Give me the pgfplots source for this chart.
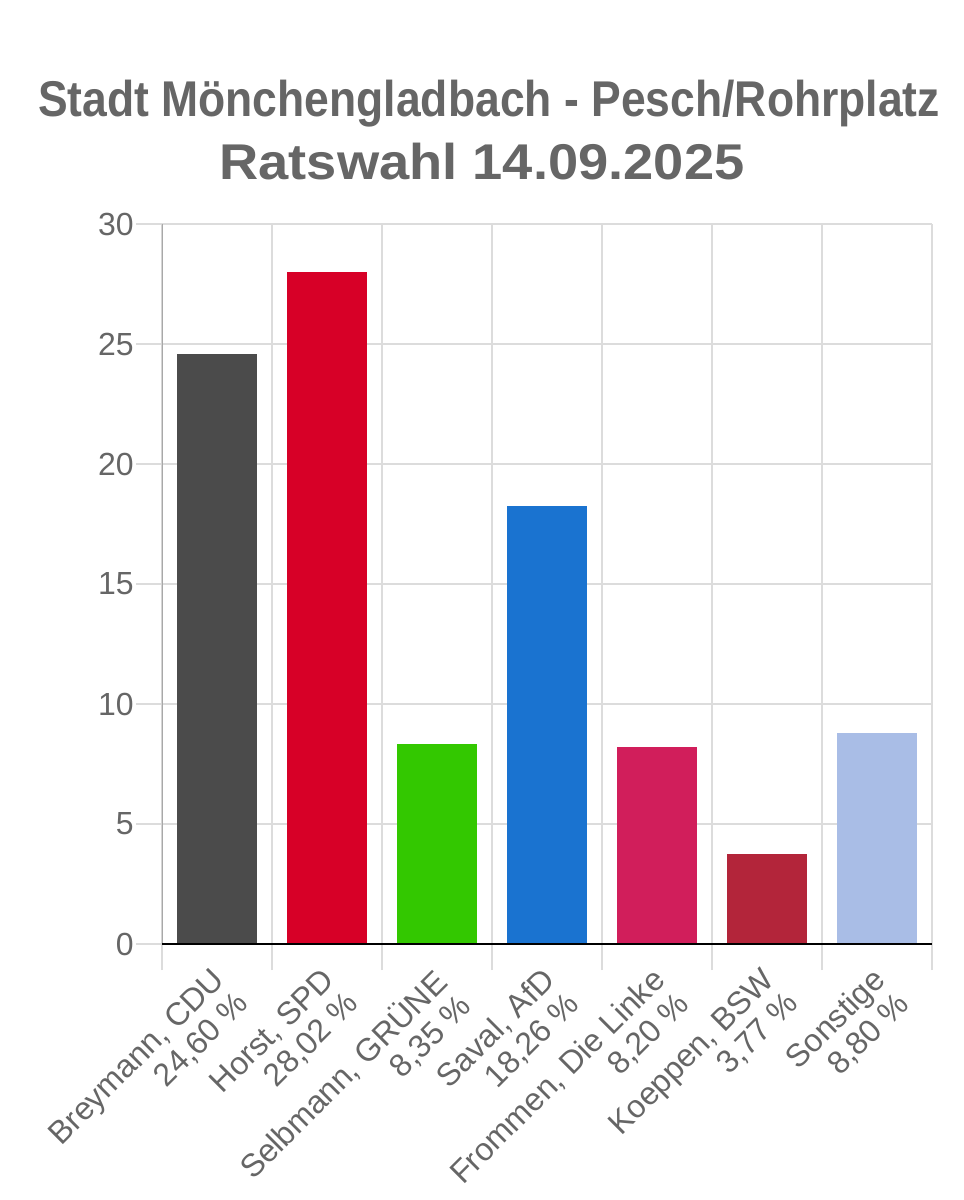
\documentclass[border=0pt]{standalone}
\usepackage{pgfplots}
\pgfplotsset{compat=1.18}
\usepackage{fontspec}
\setmainfont{Liberation Sans}
\usepackage{graphicx}

\definecolor{txt}{HTML}{666666}
\definecolor{gridgray}{HTML}{DCDCDC}
\definecolor{axisgray}{HTML}{A8A8A8}
\definecolor{cdu}{HTML}{4B4B4B}
\definecolor{spd}{HTML}{D70027}
\definecolor{gruene}{HTML}{33C800}
\definecolor{afd}{HTML}{1A73D0}
\definecolor{linke}{HTML}{D11E5B}
\definecolor{bsw}{HTML}{B3253A}
\definecolor{sonst}{HTML}{A9BDE6}

\begin{document}
\begin{tikzpicture}
\path[use as bounding box] (0,0) rectangle (96.4mm,120mm);

% title, two lines
\node[anchor=base, text=txt, inner sep=0pt] at (48.9mm,108.3mm)
  {\resizebox{90.2mm}{\height}{\fontsize{14.3pt}{16pt}\selectfont\bfseries Stadt Mönchengladbach - Pesch/Rohrplatz}};
\node[anchor=base, text=txt, inner sep=0pt] at (48.2mm,102.0mm)
  {\resizebox{52.5mm}{\height}{\fontsize{14.3pt}{16pt}\selectfont\bfseries Ratswahl 14.09.2025}};

\begin{axis}[
    at={(16.2mm,25.6mm)}, anchor=south west,
    scale only axis, width=77mm, height=72mm,
    xmin=-0.5, xmax=6.5, ymin=0, ymax=30,
    axis line style={draw=none},
    xtick={-0.5,0.5,...,6.5}, xticklabels={},
    ytick={0,5,...,30},
    xtick pos=bottom, ytick pos=left,
    tick align=outside,
    major tick length=2.6mm,
    tick style={color=gridgray, line width=0.7pt},
    grid=major,
    grid style={color=gridgray, line width=0.7pt},
    extra x ticks={0,1,...,6},
    extra x tick labels={
        {Breymann, CDU\\24,60 \%},
        {Horst, SPD\\28,02 \%},
        {Selbmann, GRÜNE\\8,35 \%},
        {Saval, AfD\\18,26 \%},
        {Frommen, Die Linke\\8,20 \%},
        {Koeppen, BSW\\3,77 \%},
        {Sonstige\\8,80 \%}},
    extra x tick style={major tick length=0pt, grid=none},
    % shifts act in the rotated frame
    xticklabel style={rotate=45, anchor=north east, align=right,
        font=\fontsize{9.1pt}{9.6pt}\selectfont, text=txt,
        inner sep=0pt, xshift=-1.95mm, yshift=-1.0mm},
    yticklabel style={font=\fontsize{9.1pt}{11pt}\selectfont, text=txt, xshift=1mm},
    /pgf/number format/assume math mode=true,
]
\addplot[ybar, bar width=8mm, fill=cdu, draw=none] coordinates {(0,24.60)};
\addplot[ybar, bar width=8mm, fill=spd, draw=none] coordinates {(1,28.02)};
\addplot[ybar, bar width=8mm, fill=gruene, draw=none] coordinates {(2,8.35)};
\addplot[ybar, bar width=8mm, fill=afd, draw=none] coordinates {(3,18.26)};
\addplot[ybar, bar width=8mm, fill=linke, draw=none] coordinates {(4,8.20)};
\addplot[ybar, bar width=8mm, fill=bsw, draw=none] coordinates {(5,3.77)};
\addplot[ybar, bar width=8mm, fill=sonst, draw=none] coordinates {(6,8.80)};

\draw[axisgray, line width=0.25mm] (axis cs:-0.5,30) -- ([yshift=-2.6mm]axis cs:-0.5,0);
\draw[black, line width=0.3mm] (axis cs:-0.5,0) -- (axis cs:6.5,0);
\end{axis}
\end{tikzpicture}
\end{document}
